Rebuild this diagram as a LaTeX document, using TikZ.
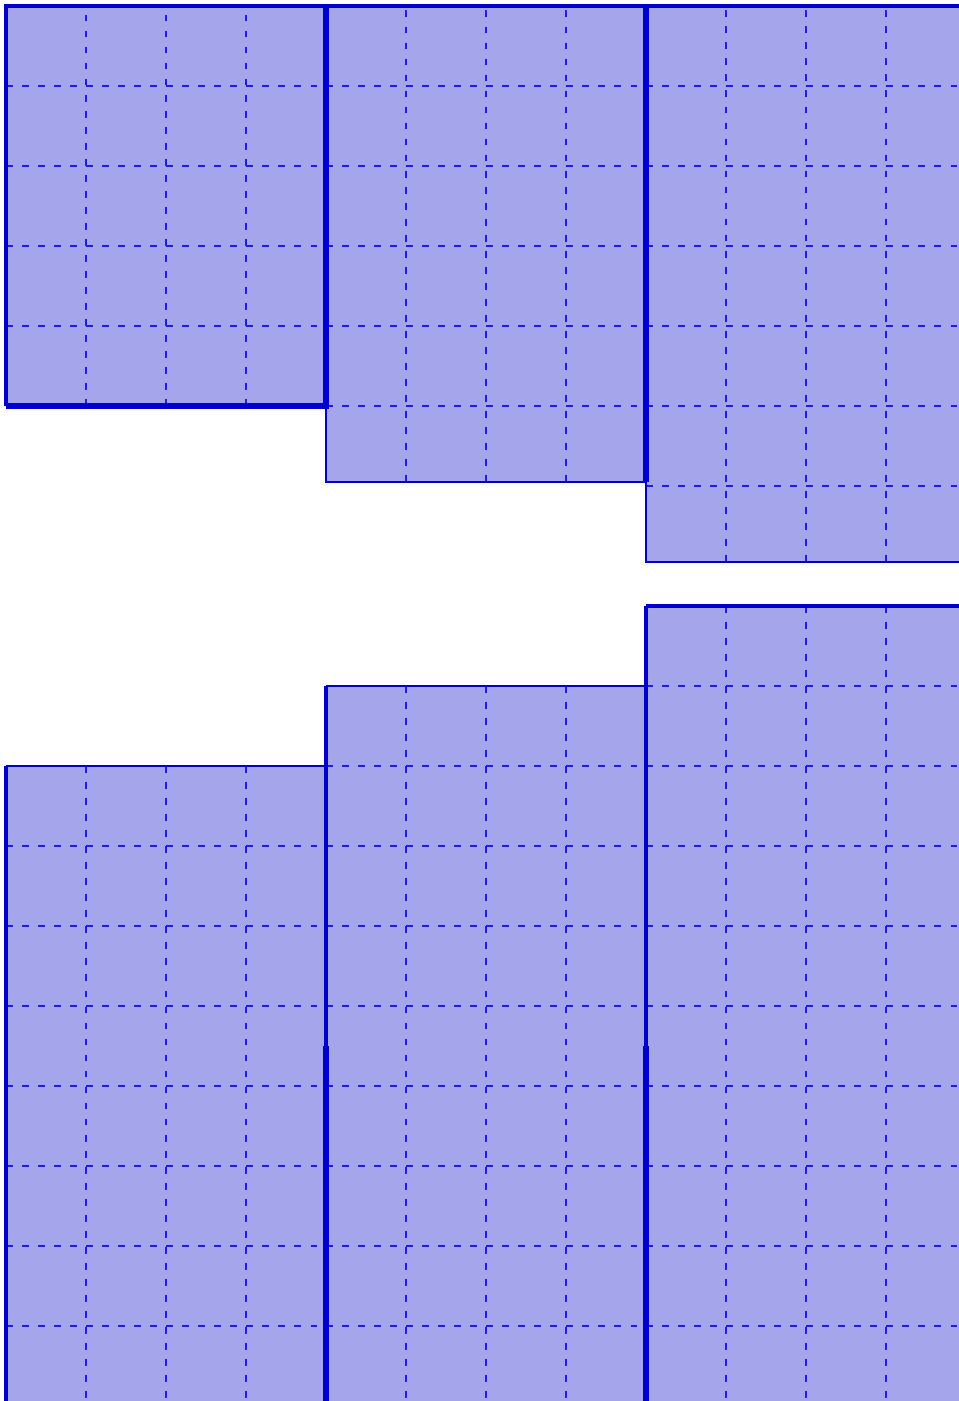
\documentclass[tikz,border=0pt]{standalone}
\usepackage{tikz}
\definecolor{traitbleu}{RGB}{0,0,204}
\definecolor{pointbleu}{RGB}{30,30,220}
\definecolor{fondbleu}{RGB}{165,165,235}

\begin{document}
\begin{tikzpicture}[
    % Remplissage des rectangles
    cellfill/.style={fill=fondbleu},
    % Quadrillage en pointillés
    gridline/.style={draw=pointbleu, line width=0.8pt, dash pattern=on 2.4pt off 3.3pt, step=1cm},
    % Bord fin des rectangles
    thinrim/.style={draw=traitbleu, line width=0.9pt},
    % Bord moyen (haut et gauche)
    rim/.style={draw=traitbleu, line width=1.3pt},
    % Bord épais entre deux rectangles
    seam/.style={draw=traitbleu, line width=2pt}
]
\useasboundingbox (0,0) rectangle (11.9875,-17.5125);
\clip (0,0) rectangle (11.9875,-17.5125);

% Groupe du haut
\begin{scope}[shift={(0.075,-0.075)}]
    \fill[cellfill] (0,0) rectangle (4,-5);
    \fill[cellfill] (4,0) rectangle (8,-5.95);
    \fill[cellfill] (8,0) rectangle (12.5,-6.95);
    \draw[gridline] (0,-5) grid (4,0);
    \draw[gridline] (4,-5.95) grid (8,0);
    \draw[gridline] (8,-6.95) grid (12.5,0);
    \draw[thinrim] (4,-5) -- (4,-5.95) -- (8,-5.95);
    \draw[thinrim] (8,-5.95) -- (8,-6.95) -- (12.5,-6.95);
    \draw[rim] (12.5,0) -- (0,0) -- (0,-5);
    \draw[seam] (0,-5) -- (4,-5) -- (4,0);
    \draw[seam] (8,0) -- (8,-5.95);
\end{scope}

% Groupe du bas
\begin{scope}[shift={(0.075,-0.575)}]
    \fill[cellfill] (0,-9) rectangle (4,-17.5);
    \fill[cellfill] (4,-8) rectangle (8,-17.5);
    \fill[cellfill] (8,-7) rectangle (12.5,-17.5);
    \draw[gridline] (0,-17.5) grid (4,-9);
    \draw[gridline] (4,-17.5) grid (8,-8);
    \draw[gridline] (8,-17.5) grid (12.5,-7);
    \draw[thinrim] (0,-9) -- (4,-9);
    \draw[thinrim] (4,-8) -- (8,-8);
    \draw[rim] (4,-8) -- (4,-12.5);
    \draw[rim] (8,-7) -- (12.5,-7);
    \draw[rim] (8,-7) -- (8,-12.5);
    \draw[rim] (0,-9) -- (0,-17.5);
    \draw[seam] (4,-12.5) -- (4,-17.5);
    \draw[seam] (8,-12.5) -- (8,-17.5);
\end{scope}

\end{tikzpicture}
\end{document}
